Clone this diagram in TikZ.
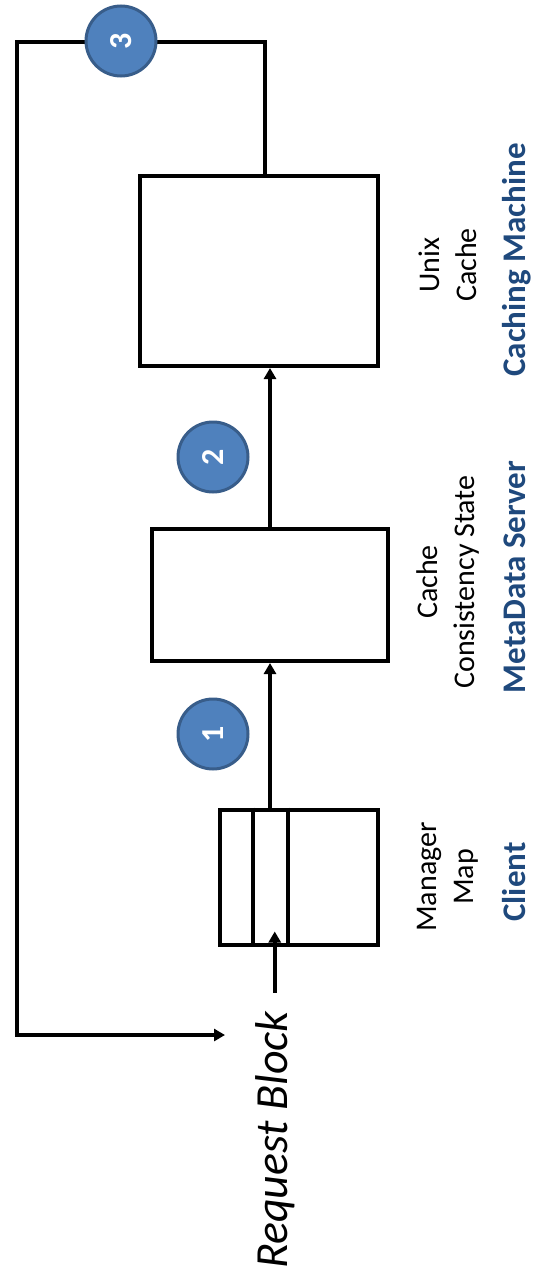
\documentclass[tikz,border=0pt]{standalone}
\usepackage{fontspec}
\setmainfont{Carlito}
\definecolor{StepBlue}{HTML}{4F81BD}
\definecolor{StepEdge}{HTML}{385D8A}
\definecolor{RoleBlue}{HTML}{1F497D}
\usetikzlibrary{
  arrows.meta,
  positioning
}

\begin{document}
\begin{tikzpicture}[
  x=1pt, y=-1pt,
  comp/.style={
    rectangle, draw, line width=4pt,
    inner sep=0pt
  },
  flow/.style={
    line width=3.6pt,
    -{Triangle[length=11pt,width=12pt]}
  },
  badge/.style={
    circle, fill=StepBlue, draw=StepEdge,
    line width=3pt, minimum size=70pt, inner sep=0pt,
    text=white, font=\fontsize{32}{36}\selectfont\bfseries,
    rotate=90
  },
  part/.style={
    font=\fontsize{30}{37}\selectfont,
    align=center, rotate=90
  },
  role/.style={
    font=\fontsize{33}{40}\selectfont\bfseries,
    text=RoleBlue, rotate=90, anchor=base
  }
]
  % Page frame (533 x 1279)
  \useasboundingbox (0,0) rectangle (533,1279);

  % Components
  \node[comp, minimum width=238pt, minimum height=190pt]
    (unix) at (259,271) {};
  \node[comp, minimum width=236pt, minimum height=132pt]
    (cons) at (270,595) {};
  \node[comp, minimum width=158pt, minimum height=135pt]
    (mgr) at (299,877) {};

  % Map slots
  \draw[line width=4pt] ([xshift=35pt]mgr.north west)
    -- ([xshift=35pt]mgr.south west);
  \draw[line width=4pt] ([xshift=70pt]mgr.north west)
    -- ([xshift=70pt]mgr.south west);

  % Labels
  \node[part] (unixlbl) at (448,265) {Unix\\Cache};
  \node[part] (conslbl) at (448,582) {Cache\\Consistency State};
  \node[part] (mgrlbl) at (448,877) {Manager\\Map};

  \node[role] (cachem) at (525,260) {Caching Machine};
  \node[role] (server) at (525,577) {MetaData Server};
  \node[role] (client) at (525,882) {Client};

  \node[rotate=90, anchor=base,
    font=\fontsize{46}{52}\selectfont\itshape]
    (req) at (287,1140) {Request Block};

  % Forward path
  \draw[flow] ([yshift=15pt]req.east)
    -- ([yshift=15pt]req.east |- mgr.south);
  \draw[flow] (mgr.north -| cons.south) -- (cons.south);
  \draw[flow] (cons.north) -- (cons.north |- unix.south);

  % Return path
  \coordinate (topleft) at (17,42);
  \coordinate (botleft) at (17,1035);
  \coordinate (back) at (225,1035);
  \draw[flow, line width=4pt] ([xshift=6pt]unix.north) |- (topleft)
    -- (botleft) -- (back);

  % Steps
  \node[badge] (s1) at (213,734) {1};
  \node[badge] (s2) at (213,457) {2};
  \node[badge] (s3) at (121,41) {3};
\end{tikzpicture}
\end{document}
